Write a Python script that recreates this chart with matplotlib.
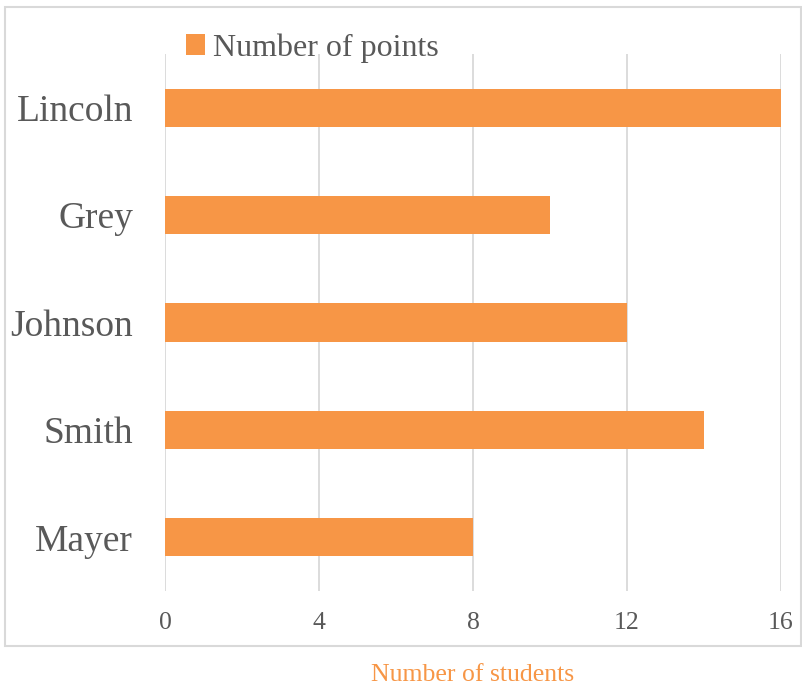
import matplotlib
matplotlib.use("Agg")
import matplotlib.pyplot as plt
from matplotlib.patches import Rectangle, Patch

categories = ["Lincoln", "Grey", "Johnson", "Smith", "Mayer"]
values = [16, 10, 12, 14, 8]
xticks = [0, 4, 8, 12, 16]
series_name = "Number of points"
x_title = "Number of students"

orange = "#F79646"
grey_text = "#595959"
grid_col = "#D9D9D9"

plt.rcParams['font.family'] = ['Liberation Serif', 'DejaVu Serif']

W, H = 803, 688
fig = plt.figure(figsize=(W/100, H/100), dpi=100)
ax = fig.add_axes([165/W, 1-591/H, (781-165)/W, (591-54)/H])

ypos = list(range(len(categories)))[::-1]
ax.barh(ypos, values, height=0.355, color=orange, zorder=3)
ax.set_ylim(-0.5, len(categories)-0.5)
ax.set_xlim(0, 16)
ax.set_xticks(xticks)
ax.set_xticklabels([str(t) for t in xticks], fontsize=18.5, color=grey_text)
ax.set_yticks(ypos)
ax.set_yticklabels(categories, fontsize=27, color=grey_text)
ax.tick_params(axis='x', length=0, pad=15)
ax.tick_params(axis='y', length=0, pad=23)
for s in ax.spines.values():
    s.set_visible(False)
ax.grid(axis='x', color=grid_col, linewidth=1.3, zorder=0)
ax.grid(axis='y', visible=False)

fig.text(473/W, 1-675/H, x_title, color=orange, fontsize=18.5, ha='center', va='center')

leg = fig.legend(handles=[Patch(facecolor=orange, label=series_name)],
                 loc='center left', bbox_to_anchor=(186/W, 1-48/H),
                 frameon=False, fontsize=23, handlelength=0.6, handleheight=0.6,
                 handletextpad=0.25, borderpad=0, borderaxespad=0)
for t in leg.get_texts():
    t.set_color(grey_text)

fig.patches.append(Rectangle((5/W, 1-646/H), (801-5)/W, (646-7)/H,
                             transform=fig.transFigure, fill=False,
                             edgecolor=grid_col, linewidth=1.5))

fig.savefig("out.png", dpi=100)
